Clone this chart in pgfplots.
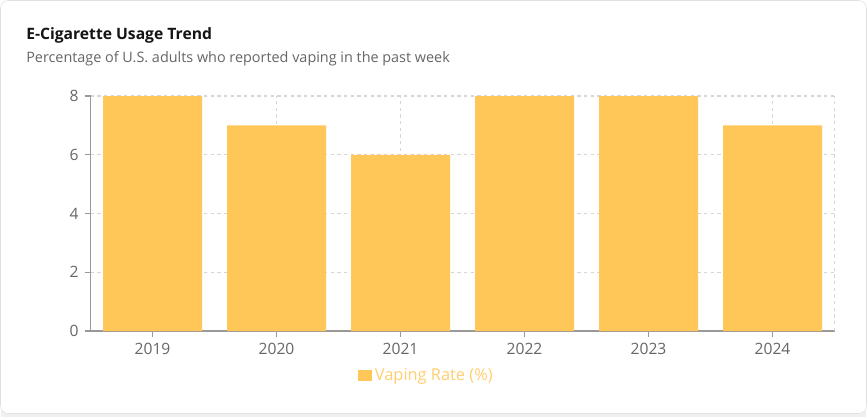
\documentclass[border=0pt]{standalone}
\usepackage{pgfplots}
\pgfplotsset{compat=1.18}
\usepackage{fontspec}
\setmainfont{Open Sans}
\definecolor{barc}{HTML}{FFC658}
\definecolor{axc}{HTML}{999999}
\definecolor{tickc}{HTML}{666666}
\definecolor{gridc}{HTML}{D6D6D6}
\begin{document}
\begin{tikzpicture}
\begin{scope}[x=0.75pt,y=0.75pt]
\path[use as bounding box] (0,0) rectangle (867,419);
\fill[black!6] (1,2) rectangle (866,8);
\draw[black!12,fill=white,rounded corners=6] (0.5,5.5) rectangle (866.5,418.5);
\node[anchor=base west,inner sep=0,font=\fontsize{11.75pt}{14pt}\selectfont\bfseries,text=black!92] at (26,380) {E-Cigarette Usage Trend};
\node[anchor=base west,inner sep=0,font=\fontsize{10.8pt}{12pt}\selectfont,text=tickc] at (26,357) {Percentage of U.S. adults who reported vaping in the past week};
\end{scope}
\begin{axis}[
  at={(67.875pt,66pt)}, anchor=south west,
  width=558pt, height=176.25pt, scale only axis,
  xmin=-0.5, xmax=5.5, ymin=0, ymax=8,
  axis lines=left, axis line style={axc, line width=0.8pt, -},
  xtick={0,1,2,3,4,5}, xticklabels={2019,2020,2021,2022,2023,2024},
  ytick={0,2,4,6,8},
  tick align=outside, major tick length=4.5pt,
  tick style={axc, line width=0.8pt},
  every tick label/.append style={text=tickc, font=\fontsize{11.7pt}{13pt}\selectfont},
  /pgf/number format/assume math mode=true,
  xticklabel style={yshift=-1pt},
  yticklabel style={xshift=-1pt},
  grid=major, major grid style={gridc, line width=0.8pt, dash pattern=on 2.5pt off 2.5pt},
  legend style={at={(0.452,-0.19)}, anchor=center, draw=none, fill=none,
    font=\fontsize{12.3pt}{14pt}\selectfont, text=barc!85!white,
    inner sep=0pt, legend cell align=left},
  legend image code/.code={\fill[barc] (0pt,-4pt) rectangle (10.5pt,4pt);},
  clip=false,
]
\draw[gridc, line width=0.8pt, dash pattern=on 2.5pt off 2.5pt] (axis cs:5.5,0) -- (axis cs:5.5,8);
\addplot[ybar, bar width=74.25pt, fill=barc, draw=none] coordinates {(0,8) (1,7) (2,6) (3,8) (4,8) (5,7)};
\addlegendentry{Vaping Rate (\%)}
\end{axis}
\end{tikzpicture}
\end{document}
